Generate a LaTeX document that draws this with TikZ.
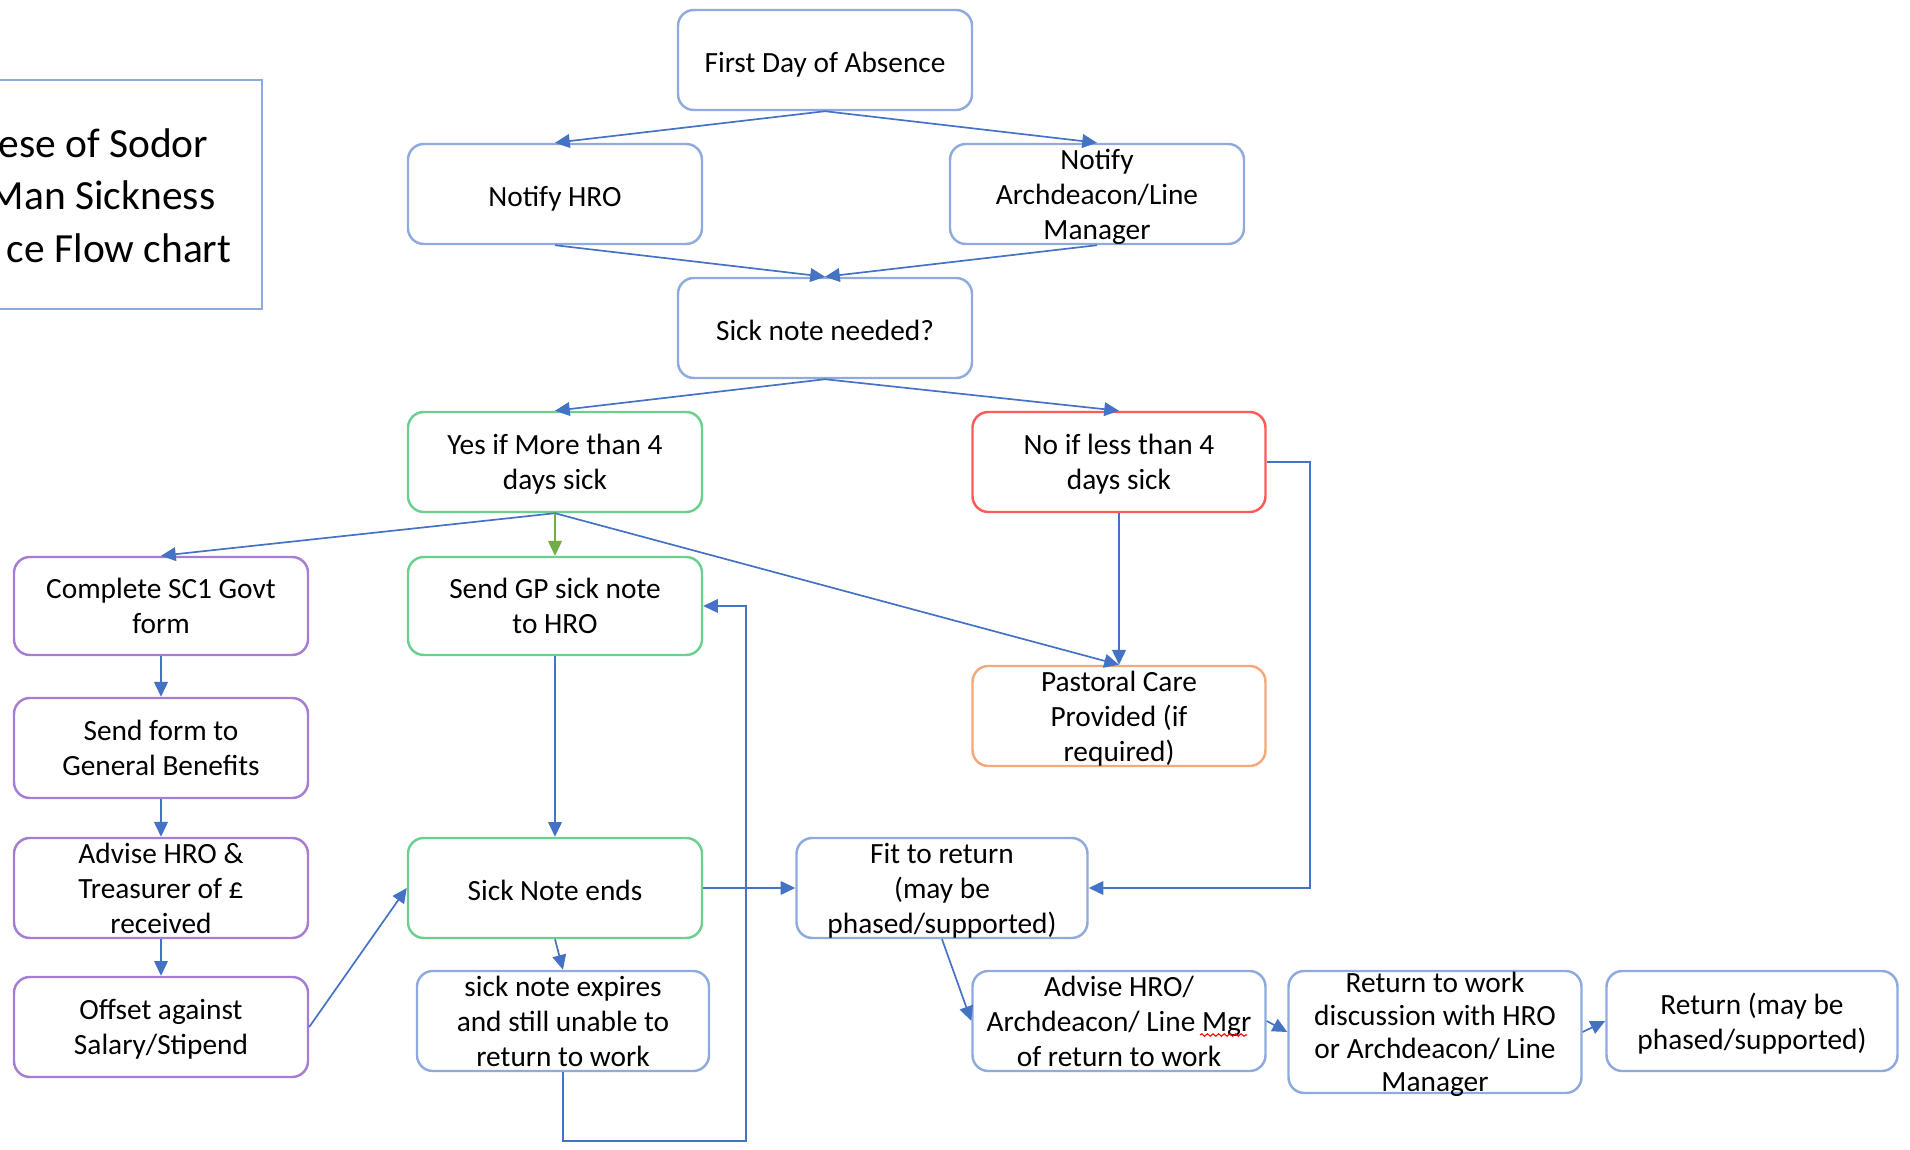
\documentclass[tikz,border=0pt]{standalone}
\usepackage{fontspec}
\setmainfont{Carlito}
\usepackage{xcolor}
\usetikzlibrary{positioning}
\usetikzlibrary{arrows.meta}
\usetikzlibrary{calc}
\usetikzlibrary{decorations.pathmorphing}

\definecolor{boxblue}{HTML}{8FAADC}
\definecolor{linkblue}{HTML}{4472C4}
\definecolor{boxgreen}{HTML}{6CCF8E}
\definecolor{linkgreen}{HTML}{70AD47}
\definecolor{boxpurple}{HTML}{A67DD4}
\definecolor{boxred}{HTML}{FF5A5A}
\definecolor{boxorange}{HTML}{F5A878}

\begin{document}
\begin{tikzpicture}[
  box/.style={draw=boxblue, line width=0.7pt, rounded corners=4.5pt,
    minimum width=2.94cm, minimum height=1cm, inner sep=0pt,
    align=center, font=\fontsize{8.35}{9.96}\selectfont,
    execute at begin node={\rule{0pt}{9.6pt}},
    execute at end node={\rule[-2.2pt]{0pt}{0pt}}},
  multi/.style={text depth=-0.6pt},
  link/.style={draw=linkblue, line width=0.48pt, -{Triangle[length=4.2pt,width=3.9pt]}},
  titletext/.style={anchor=base east, inner sep=0pt, font=\fontsize{11.8}{14.8}\selectfont}
]
\useasboundingbox (0,0) rectangle (19.1,-11.5);
\clip (0,0) rectangle (19.1,-11.5);

% title, cut off on the left
\node[draw=boxblue, line width=0.6pt, minimum width=3.8cm, minimum height=2.29cm, inner sep=0pt] (titlebox) at (0.72,-1.945) {};
\node[titletext] (title1) at (2.09,-1.58) {ese of Sodor};
\node[titletext] (title2) at (2.16,-2.10) {Man Sickness};
\node[titletext] (title3) at (2.32,-2.63) {ce Flow chart};

% top of the chart
\node[box] (first) at (8.25,-0.60) {First Day of Absence};
\node[box] (hro) at (5.55,-1.94) {Notify HRO};
\node[box, multi] (arch) at (10.97,-1.94) {Notify\\Archdeacon/Line\\Manager};
\node[box] (needed) at (8.25,-3.28) {Sick note needed?};
\node[box, multi, draw=boxgreen] (yes) at (5.55,-4.62) {Yes if More than 4\\days sick};
\node[box, multi, draw=boxred, minimum width=2.93cm] (no) at (11.19,-4.62) {No if less than 4\\days sick};

% left column
\node[box, multi, draw=boxpurple, minimum height=0.98cm] (sc1) at (1.61,-6.06) {Complete SC1 Govt\\form};
\node[box, multi, draw=boxpurple] (form) at ($(sc1)+(0,-1.42)$) {Send form to\\General Benefits};
\node[box, multi, draw=boxpurple] (treas) at ($(form)+(0,-1.40)$) {Advise HRO \&\\Treasurer of £\\received};
\node[box, multi, draw=boxpurple] (offset) at ($(treas)+(0,-1.39)$) {Offset against\\Salary/Stipend};

% middle
\node[box, multi, draw=boxgreen, minimum height=0.98cm] (gp) at (5.55,-6.06) {Send GP sick note\\to HRO};
\node[box, draw=boxgreen] (ends) at (5.55,-8.88) {Sick Note ends};
\node[box, multi, minimum width=2.92cm] (expires) at (5.63,-10.21) {sick note expires\\and still unable to\\return to work};
\node[box, multi, draw=boxorange, minimum width=2.93cm] (past) at (11.19,-7.16) {Pastoral Care\\Provided (if\\required)};
\node[box, multi, minimum width=2.91cm] (fit) at (9.42,-8.88) {Fit to return\\(may be\\phased/supported)};

% bottom row
\node[box, multi, minimum width=2.93cm] (advret) at (11.19,-10.21) {Advise HRO/\\Archdeacon/ Line Mgr\\of return to work};
\node[box, multi, minimum width=2.93cm, minimum height=1.22cm, font=\fontsize{8.35}{9.4}\selectfont] (rtw) at (14.35,-10.32) {Return to work\\discussion with HRO\\or Archdeacon/ Line\\Manager};
\node[box, multi, minimum width=2.91cm] (ret) at (17.52,-10.21) {Return (may be\\phased/supported)};

\draw[red, line width=0.3pt, decorate, decoration={snake, amplitude=0.35pt, segment length=1.6pt}]
  ($(advret.center)+(0.81,-0.14)$) -- ($(advret.center)+(1.28,-0.14)$);

\draw[link] (first.south) -- (hro.north);
\draw[link] (first.south) -- (arch.north);
\draw[link] (hro.south) -- (needed.north);
\draw[link] (arch.south) -- (needed.north);
\draw[link] (needed.south) -- (yes.north);
\draw[link] (needed.south) -- (no.north);
\draw[link] (yes.south) -- (sc1.north);
\draw[link, draw=linkgreen] (yes.south) -- (gp.north);
\draw[link] (yes.south) -- (past.north);
\draw[link] (no.south) -- (past.north);
\draw[link] (no.east) -- ++(0.43,0) |- (fit.east);

\draw[link] (sc1.south) -- (form.north);
\draw[link] (form.south) -- (treas.north);
\draw[link] (treas.south) -- (offset.north);
\draw[link] (offset.east) -- (ends.west);

\draw[link] (gp.south) -- (ends.north);
\draw[link] (ends.east) -- (fit.west);
\draw[link] (ends.south) -- (expires.north);
\draw[link] (expires.south) -- ++(0,-0.69) -| ($(gp.east)+(0.43,0)$) -- (gp.east);

\draw[link] (fit.south) -- (advret.west);
\draw[link] (advret.east) -- (rtw.west);
\draw[link] (rtw.east) -- (ret.west);
\end{tikzpicture}
\end{document}
